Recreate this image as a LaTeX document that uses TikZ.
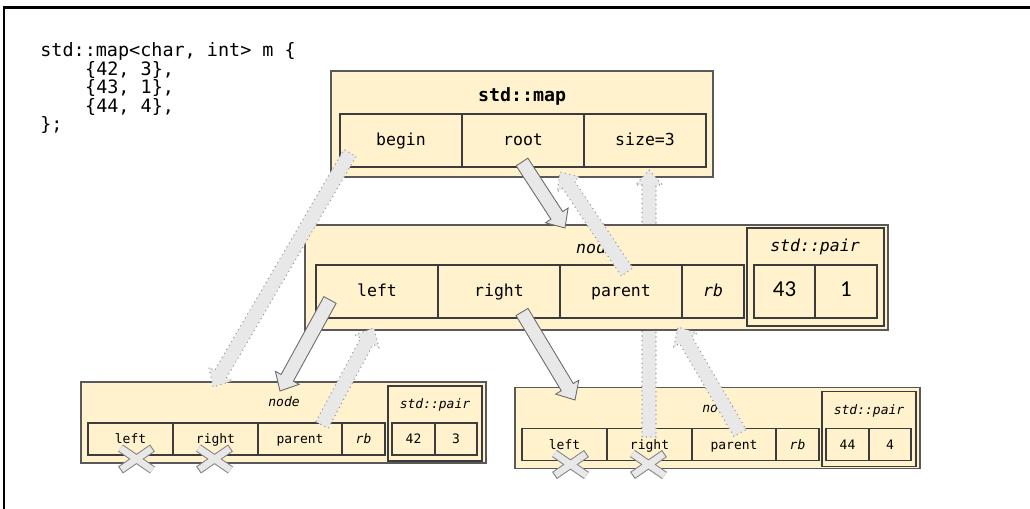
\documentclass[tikz,border=0pt]{standalone}
\usepackage{fontspec}
\setmonofont{DejaVu Sans Mono}
\newfontfamily\calib{Carlito}
\usetikzlibrary{calc}
\definecolor{boxfill}{HTML}{FFF2CC}
\definecolor{boxline}{HTML}{3C3C3C}
\definecolor{arrowfill}{HTML}{E8E8E8}
\definecolor{arrowline}{HTML}{6A6A6A}
\definecolor{dotline}{HTML}{9A9A9A}
\tikzset{
  box/.style={draw=boxline, fill=boxfill, line width=0.6pt, inner sep=0pt, outer sep=0pt,
    text height=1.6ex, text depth=0.4ex},
  outerbox/.style={box, draw=gray!70!black, line width=0.9pt},
  bigtxt/.style={font=\ttfamily\fontsize{9.4}{11}\selectfont},
  bigit/.style={inner sep=0pt, font=\ttfamily\itshape\fontsize{9.4}{11}\selectfont},
  smalltxt/.style={font=\ttfamily\fontsize{7.4}{9}\selectfont},
  smallit/.style={inner sep=0pt, font=\ttfamily\itshape\fontsize{7.4}{9}\selectfont},
  code/.style={anchor=base west, inner sep=0pt, font=\ttfamily\fontsize{10.5}{12}\selectfont},
  solidarrow/.style={fill=arrowfill, draw=arrowline, line width=0.5pt},
  dotarrow/.style={fill=arrowfill, draw=dotline, line width=0.6pt, dotted},
}
% fat arrow: style, name, tail, tip
\newcommand\fatarrow[4]{%
  \coordinate (#2-neck) at ($(#4)!0.3cm!(#3)$);
  \draw[#1] ($(#3)!0.14cm!90:(#4)$) -- ($(#2-neck)!0.14cm!90:(#4)$)
    -- ($(#2-neck)!0.27cm!90:(#4)$) -- (#4) -- ($(#2-neck)!0.27cm!-90:(#4)$)
    -- ($(#2-neck)!0.14cm!-90:(#4)$) -- ($(#3)!0.14cm!-90:(#4)$) -- cycle;}
\begin{document}
\begin{tikzpicture}[x=0.02cm, y=-0.02cm]
  \useasboundingbox (0,0) rectangle (1030,509);
  \draw[line width=1.6pt] (4,509) |- (1030,7.5);

  % source
  \foreach \i/\ind/\txt in {0/0/{std::map<char, int> m \{}, 1/1/{\{42, 3\},},
    2/1/{\{43, 1\},}, 3/1/{\{44, 4\},}, 4/0/{\};}}
    \node[code] (code\i) at ({40+44.8*\ind},{57+18.5*\i}) {\txt};

  % the map itself
  \node[outerbox, minimum width=7.64cm, minimum height=2.12cm] (map) at (522,124) {};
  \node[inner sep=0pt, font=\ttfamily\bfseries\fontsize{10.4}{12}\selectfont] (map-title) at (522,96) {std::map};
  \foreach \nm/\xa/\xb/\txt in {begin/340/462/begin, root/462/584/root, size/584/706/size=3}
    \node[box, bigtxt, minimum width={(\xb-\xa)*0.02cm}, minimum height=1.06cm] (map-\nm) at ({(\xa+\xb)/2},140.5) {\txt};

  % leaves
  \foreach \nm/\dx/\dy/\keynum/\valnum in {bl/0/0/42/3, br/434/5.5/44/4} {
    \node[outerbox, minimum width=8.1cm, minimum height=1.62cm] (\nm) at ({283.5+\dx},{422.5+\dy}) {};
    \node[smallit] (\nm-title) at ({284+\dx},{402+\dy}) {node};
    \foreach \c/\xa/\xb/\txt in {left/88/173/left, right/173/258/right, parent/258/342/parent, rb/342/385/\textit{rb}}
      \node[box, smalltxt, minimum width={(\xb-\xa)*0.02cm}, minimum height=0.64cm] (\nm-\c) at ({(\xa+\xb)/2+\dx},{439+\dy}) {\txt};
    \node[box, minimum width=1.88cm, minimum height=1.5cm] (\nm-pair) at ({435+\dx},{423.5+\dy}) {};
    \node[smallit] (\nm-pairtitle) at ({435+\dx},{405+\dy}) {std::pair};
    \node[box, smalltxt, minimum width=0.86cm, minimum height=0.64cm] (\nm-key) at ({413.5+\dx},{439+\dy}) {\keynum};
    \node[box, smalltxt, minimum width=0.84cm, minimum height=0.64cm] (\nm-val) at ({456+\dx},{439+\dy}) {\valnum};
  }

  % goes behind the root node
  \coordinate (rr-tail) at (649,437);
  \coordinate (rr-tip) at (649,170);
  \fatarrow{dotarrow}{rr}{rr-tail}{rr-tip}

  % root node
  \node[outerbox, minimum width=11.66cm, minimum height=2.1cm] (mid) at (596.5,277.5) {};
  \node[bigit] (mid-title) at (596,247) {node};
  \foreach \c/\xa/\xb/\txt in {left/316/438/left, right/438/560/right, parent/560/682/parent, rb/682/744/\textit{rb}}
    \node[box, bigtxt, minimum width={(\xb-\xa)*0.02cm}, minimum height=1.06cm] (mid-\c) at ({(\xa+\xb)/2},291.5) {\txt};
  \node[box, minimum width=2.74cm, minimum height=1.96cm] (mid-pair) at (815.5,277) {};
  \node[bigit] (mid-pairtitle) at (815,247) {std::pair};
  \node[box, font=\calib\fontsize{13}{15}\selectfont, minimum width=1.22cm, minimum height=1.06cm] (mid-key) at (784.5,291.5) {43};
  \node[box, font=\calib\fontsize{13}{15}\selectfont, minimum width=1.24cm, minimum height=1.06cm] (mid-val) at (846,291.5) {1};

  % null children
  \foreach \p/\dx in {bl-left/6, bl-right/-1, br-left/6, br-right/-1} {
    \coordinate (\p-null) at ($(\p.south)+(\dx,4)$);
    \begin{scope}[shift={(\p-null)}]
      \draw[line width=0.17cm, gray] (-16,-11) -- (16,11) (-16,11) -- (16,-11);
      \draw[line width=0.13cm, arrowfill, shorten <=0.6pt, shorten >=0.6pt] (-16,-11) -- (16,11) (-16,11) -- (16,-11);
    \end{scope}
  }

  % pointers
  \foreach \nm/\sty/\xa/\ya/\xb/\yb in {
    beginptr/dotarrow/350/153/213/387,
    rootptr/solidarrow/522/162/565/228,
    midparent/dotarrow/627/272/560/172,
    midleft/solidarrow/330/300/280/391,
    blparent/dotarrow/322/425/374/328,
    midright/solidarrow/522/312/575/400,
    brparent/dotarrow/740/433/678/327} {
    \coordinate (\nm-tail) at (\xa,\ya);
    \coordinate (\nm-tip) at (\xb,\yb);
    \fatarrow{\sty}{\nm}{\nm-tail}{\nm-tip}
  }
\end{tikzpicture}
\end{document}
